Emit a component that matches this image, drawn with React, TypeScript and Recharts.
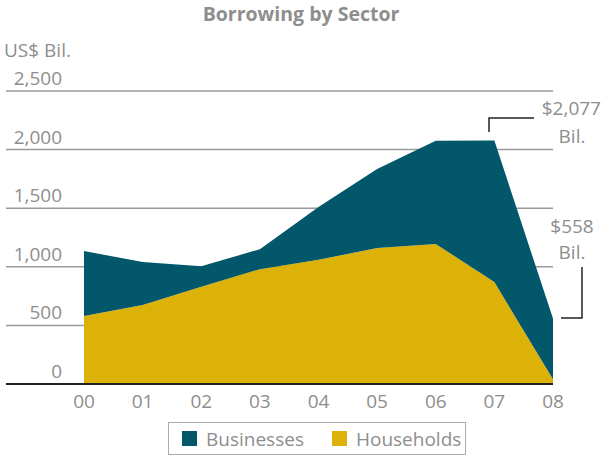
import React from 'react';
import { AreaChart, Area, XAxis, YAxis, CartesianGrid } from 'recharts';

const years = ['00', '01', '02', '03', '04', '05', '06', '07', '08'];
const households = [580, 675, 830, 980, 1060, 1160, 1195, 870, 40];
const businesses = [555, 365, 175, 170, 450, 675, 880, 1207, 518];
const yTicks = [0, 500, 1000, 1500, 2000, 2500];

const data = years.map((y, i) => ({ year: y, households: households[i], businesses: businesses[i] }));

const TEAL = '#02576a';
const GOLD = '#dcb108';
const GRAY = '#8e8e8e';
const FONT = '"Open Sans", "Noto Sans", sans-serif';

const YTick = (props: any) => {
  const { y, payload } = props;
  return (
    <text x={62} y={y - 6} textAnchor="end" fill={GRAY} fontSize={19} fontFamily={FONT}>
      {Number(payload.value).toLocaleString('en-US')}
    </text>
  );
};

const XTick = (props: any) => {
  const { x, y, payload } = props;
  return (
    <text x={x} y={y + 16} textAnchor="middle" fill={GRAY} fontSize={19} fontFamily={FONT}>
      {payload.value}
    </text>
  );
};

export default function App() {
  return (
    <div style={{ position: 'relative', width: 602, height: 457, background: '#fff', fontFamily: FONT }}>
      <style>{'html,body{margin:0;padding:0;} #root{overflow:visible;}'}</style>
      <div style={{ position: 'absolute', top: 0, left: 0, width: 602, textAlign: 'center', fontWeight: 700, fontSize: 19.5, color: GRAY, lineHeight: '28px' }}>
        Borrowing by Sector
      </div>
      <div style={{ position: 'absolute', top: 37, left: 4, fontSize: 19, color: GRAY, lineHeight: '26px' }}>US$ Bil.</div>
      <AreaChart width={602} height={457} data={data} margin={{ top: 91, right: 49, bottom: 43, left: 6 }}>
        <CartesianGrid horizontal vertical={false} stroke="#9a9a9a" strokeWidth={1.5} />
        <XAxis
          dataKey="year"
          scale="point"
          padding={{ left: 78, right: 0 }}
          axisLine={{ stroke: '#222', strokeWidth: 2 }}
          tickLine={false}
          tick={<XTick />}
          height={30}
          interval={0}
        />
        <YAxis
          domain={[0, 2500]}
          ticks={yTicks}
          mirror
          axisLine={false}
          tickLine={false}
          tick={<YTick />}
          interval={0}
        />
        <Area type="linear" dataKey="households" stackId="a" stroke="none" fill={GOLD} fillOpacity={1} isAnimationActive={false} />
        <Area type="linear" dataKey="businesses" stackId="a" stroke="none" fill={TEAL} fillOpacity={1} isAnimationActive={false} />
      </AreaChart>
      <svg width={602} height={457} style={{ position: 'absolute', top: 0, left: 0, pointerEvents: 'none' }}>
        <polyline points="489,132 489,118 534,118" fill="none" stroke="#222" strokeWidth={1.5} />
        <text x={601} y={115} textAnchor="end" fill={GRAY} fontSize={19} fontFamily={FONT}>$2,077</text>
        <text x={572} y={143} textAnchor="middle" fill={GRAY} fontSize={19} fontFamily={FONT}>Bil.</text>
        <polyline points="582,267 582,318 561,318" fill="none" stroke="#222" strokeWidth={1.5} />
        <text x={572} y={233} textAnchor="middle" fill={GRAY} fontSize={19} fontFamily={FONT}>$558</text>
        <text x={572} y={259} textAnchor="middle" fill={GRAY} fontSize={19} fontFamily={FONT}>Bil.</text>
      </svg>
      <div style={{ position: 'absolute', left: 168, top: 422, width: 298, height: 33, border: '1px solid #aaa', boxSizing: 'border-box', display: 'flex', alignItems: 'center', fontSize: 19, color: GRAY }}>
        <span style={{ display: 'inline-block', width: 15, height: 15, background: TEAL, marginLeft: 13, marginRight: 9 }} />
        <span>Businesses</span>
        <span style={{ display: 'inline-block', width: 15, height: 15, background: GOLD, marginLeft: 28, marginRight: 9 }} />
        <span>Households</span>
      </div>
    </div>
  );
}
